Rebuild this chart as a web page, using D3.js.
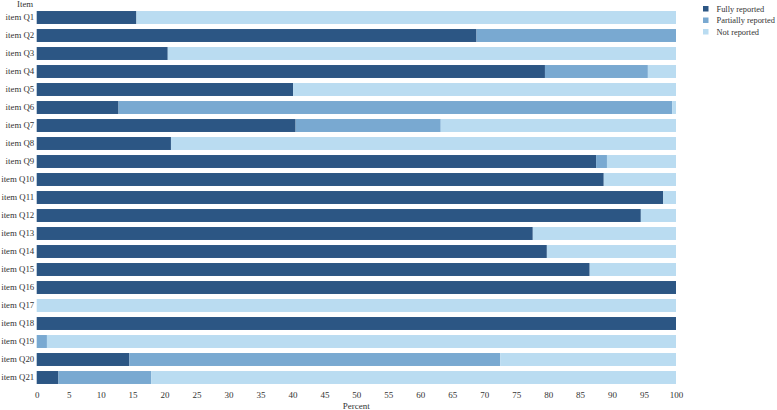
<!DOCTYPE html>
<html>
<head>
<meta charset="utf-8">
<script src="https://cdn.jsdelivr.net/npm/d3@7"></script>
<style>
  body { margin: 0; background: #fff; }
  text { font-family: "Liberation Serif", "Times New Roman", serif; fill: #333; }
</style>
</head>
<body>
<div id="chart"></div>
<script>
const items = ['Q1','Q2','Q3','Q4','Q5','Q6','Q7','Q8','Q9','Q10','Q11','Q12','Q13','Q14','Q15','Q16','Q17','Q18','Q19','Q20','Q21'].map(q => 'item ' + q);
const fully     = [15.6, 68.8, 20.5, 79.5, 40.1, 12.8, 40.5, 21.0, 87.5, 88.7, 98.0, 94.5, 77.6, 79.8, 86.5, 100, 0, 100, 0, 14.5, 3.4];
const partially = [0, 31.2, 0, 16.1, 0, 86.6, 22.7, 0, 1.7, 0, 0, 0, 0, 0, 0, 0, 0, 0, 1.6, 58.0, 14.5];
const notRep    = items.map((d, i) => Math.max(0, 100 - fully[i] - partially[i]));
const keys = ['Fully reported', 'Partially reported', 'Not reported'];
const colors = ['#2c5684', '#79a9d1', '#badcf1'];
const xTicks = d3.range(0, 101, 5);

const W = 777, H = 410;
const margin = { top: 8.5, left: 36.7, right: 101, bottom: 23.5 };

const svg = d3.select('#chart').append('svg').attr('width', W).attr('height', H);

const x = d3.scaleLinear().domain([0, 100]).range([margin.left, W - margin.right]);
const y = d3.scaleBand().domain(items).range([margin.top, H - margin.bottom])
  .paddingInner(0.28).paddingOuter(0.14);
const color = d3.scaleOrdinal().domain(keys).range(colors);

const rows = items.map((name, i) => ({
  name,
  'Fully reported': fully[i],
  'Partially reported': partially[i],
  'Not reported': notRep[i]
}));
const stacked = d3.stack().keys(keys)(rows);

svg.append('g').selectAll('g').data(stacked).join('g')
  .attr('fill', d => color(d.key))
  .selectAll('rect').data(d => d).join('rect')
  .attr('x', d => x(d[0]))
  .attr('y', d => y(d.data.name))
  .attr('width', d => Math.max(0, x(d[1]) - x(d[0])))
  .attr('height', y.bandwidth());

// y labels
const yAxis = svg.append('g')
  .attr('transform', `translate(${margin.left - 2.5},0)`)
  .call(d3.axisLeft(y).tickSize(0).tickPadding(0));
yAxis.select('.domain').remove();
yAxis.selectAll('text').style('font-size', '8.8px').attr('fill', '#333');

svg.append('text').attr('x', margin.left - 3.5).attr('y', 7)
  .attr('text-anchor', 'end').style('font-size', '8.8px').text('Item');

// x axis
const xAxis = svg.append('g')
  .attr('transform', `translate(0,${H - margin.bottom})`)
  .call(d3.axisBottom(x).tickValues(xTicks).tickSize(0).tickPadding(5));
xAxis.select('.domain').remove();
xAxis.selectAll('text').style('font-size', '9px').attr('fill', '#333');

svg.append('text').attr('x', (x(0) + x(100)) / 2).attr('y', H - 1.5)
  .attr('text-anchor', 'middle').style('font-size', '9px').text('Percent');

// legend
const legend = svg.append('g').attr('transform', 'translate(703,6)')
  .selectAll('g').data(keys).join('g')
  .attr('transform', (d, i) => `translate(0,${i * 11.5})`);
legend.append('rect').attr('width', 5.5).attr('height', 5.5).attr('fill', d => color(d));
legend.append('text').attr('x', 13.5).attr('y', 5.8).style('font-size', '8.4px').text(d => d);
</script>
</body>
</html>
